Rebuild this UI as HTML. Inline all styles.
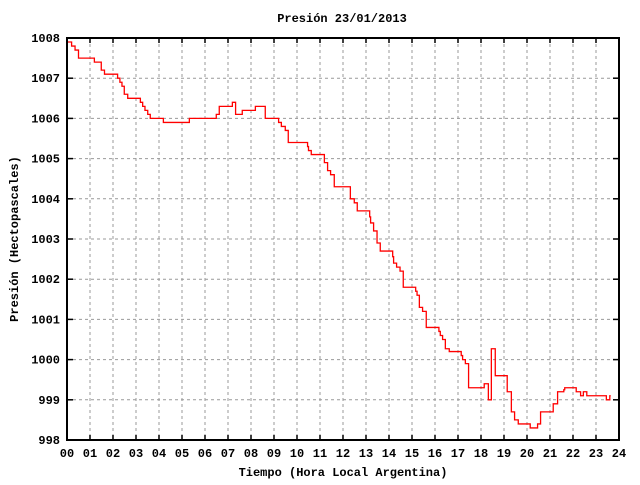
<!DOCTYPE html>
<html><head><meta charset="utf-8"><style>
body{margin:0;background:#fff;width:640px;height:480px;overflow:hidden}
svg text{font-family:"Liberation Mono","DejaVu Sans Mono",monospace;font-weight:bold;font-size:12px;fill:#000}
</style></head><body>
<svg id="chart" width="640" height="480" xmlns="http://www.w3.org/2000/svg">
<text x="342" y="22" text-anchor="middle">Presión 23/01/2013</text>
<text x="343" y="476" text-anchor="middle">Tiempo (Hora Local Argentina)</text>
<text transform="translate(18,239) rotate(-90)" text-anchor="middle">Presión (Hectopascales)</text>
<g id="grid"></g>
<g id="ticks"></g>
<path id="line" fill="none" stroke="#f00" stroke-width="1.3"/>
<rect x="67" y="38" width="552" height="402" fill="none" stroke="#000" stroke-width="2"/>
</svg>
<script>
const xTickLabels=["00","01","02","03","04","05","06","07","08","09","10","11","12","13","14","15","16","17","18","19","20","21","22","23","24"];
const yTickValues=[998,999,1000,1001,1002,1003,1004,1005,1006,1007,1008];
const hours=[0,0.2,0.35,0.5,1.19,1.49,1.63,2.2,2.3,2.39,2.49,2.64,3.19,3.29,3.39,3.51,3.62,4.19,5.32,6.49,6.62,7.19,7.33,7.62,8.19,8.62,9.2,9.32,9.49,9.62,10.46,10.5,10.62,11.19,11.33,11.46,11.62,12.32,12.49,12.62,13.16,13.2,13.33,13.48,13.62,14.16,14.2,14.33,14.48,14.62,15.16,15.22,15.32,15.46,15.62,16.17,16.23,16.33,16.45,16.62,17.14,17.2,17.32,17.46,18.14,18.32,18.45,18.62,19.14,19.32,19.46,19.62,20.14,20.46,20.59,21.14,21.33,21.6,21.64,22.14,22.33,22.45,22.6,23.45,23.6];
const pressure=[1007.9,1007.8,1007.7,1007.5,1007.4,1007.2,1007.1,1007.0,1006.9,1006.8,1006.6,1006.5,1006.4,1006.3,1006.2,1006.1,1006.0,1005.9,1006.0,1006.1,1006.3,1006.4,1006.1,1006.2,1006.3,1006.0,1005.9,1005.8,1005.7,1005.4,1005.3,1005.2,1005.1,1004.9,1004.7,1004.6,1004.3,1004.0,1003.9,1003.7,1003.55,1003.4,1003.2,1002.9,1002.7,1002.56,1002.4,1002.3,1002.2,1001.8,1001.7,1001.6,1001.3,1001.2,1000.8,1000.7,1000.6,1000.5,1000.27,1000.2,1000.1,1000.0,999.9,999.3,999.4,999.0,1000.27,999.6,999.2,998.7,998.5,998.4,998.3,998.4,998.7,998.9,999.2,999.25,999.3,999.2,999.1,999.2,999.1,999.0,999.1];
const endHour=23.64;
const X0=67,X1=619,Y0=440,Y1=38;
const xs=h=>X0+(X1-X0)*h/24;
const ys=v=>Y0-(Y0-Y1)*(v-998)/10;
const NS="http://www.w3.org/2000/svg";
const grid=document.getElementById('grid'),ticks=document.getElementById('ticks');
function mk(parent,tag,attrs){const e=document.createElementNS(NS,tag);for(const k in attrs)e.setAttribute(k,attrs[k]);parent.appendChild(e);return e;}
xTickLabels.forEach((lab,i)=>{
  const x=xs(i);
  if(i>0&&i<24){const g=mk(grid,'line',{x1:x,x2:x,y1:Y1,y2:Y0,stroke:'#999','stroke-dasharray':'3,3'});
  
  }
  const t=mk(ticks,'line',{x1:x,x2:x,y1:Y0,y2:Y0-5,stroke:'#000','stroke-width':1.5});
  
  
  const t2=mk(ticks,'line',{x1:x,x2:x,y1:Y1,y2:Y1+5,stroke:'#000','stroke-width':1.5});
  
  
  const tx=mk(ticks,'text',{x:x,y:457,'text-anchor':'middle'});tx.textContent=lab;
  
  
});
yTickValues.forEach(v=>{
  const y=ys(v);
  if(v>998&&v<1008){const g=mk(grid,'line',{x1:X0,x2:X1,y1:y,y2:y,stroke:'#999','stroke-dasharray':'3,3'});
  
  }
  const t=mk(ticks,'line',{x1:X0,x2:X0+6,y1:y,y2:y,stroke:'#000','stroke-width':1.5});
  
  
  const t2=mk(ticks,'line',{x1:X1,x2:X1-6,y1:y,y2:y,stroke:'#000','stroke-width':1.5});
  
  
  const tx=mk(ticks,'text',{x:60,y:y+4,'text-anchor':'end'});tx.textContent=v;
  
  
});
let d='';
for(let i=0;i<hours.length;i++){
  const x=xs(hours[i]),y=ys(pressure[i]);
  d+=(i===0?'M':'V')+(i===0?x+','+y:y)+' ';
  if(i>0)d=d;
  const nx=i+1<hours.length?xs(hours[i+1]):xs(endHour);
  d+='H'+nx+' ';
}
// rebuild properly: M x0,y0 H x1 V y1 H x2 ...
d='M'+xs(hours[0])+','+ys(pressure[0]);
for(let i=0;i<hours.length;i++){
  if(i>0)d+=' V'+ys(pressure[i]);
  const nx=i+1<hours.length?xs(hours[i+1]):xs(endHour);
  d+=' H'+nx;
}
document.getElementById('line').setAttribute('d',d);
</script>
</body></html>
